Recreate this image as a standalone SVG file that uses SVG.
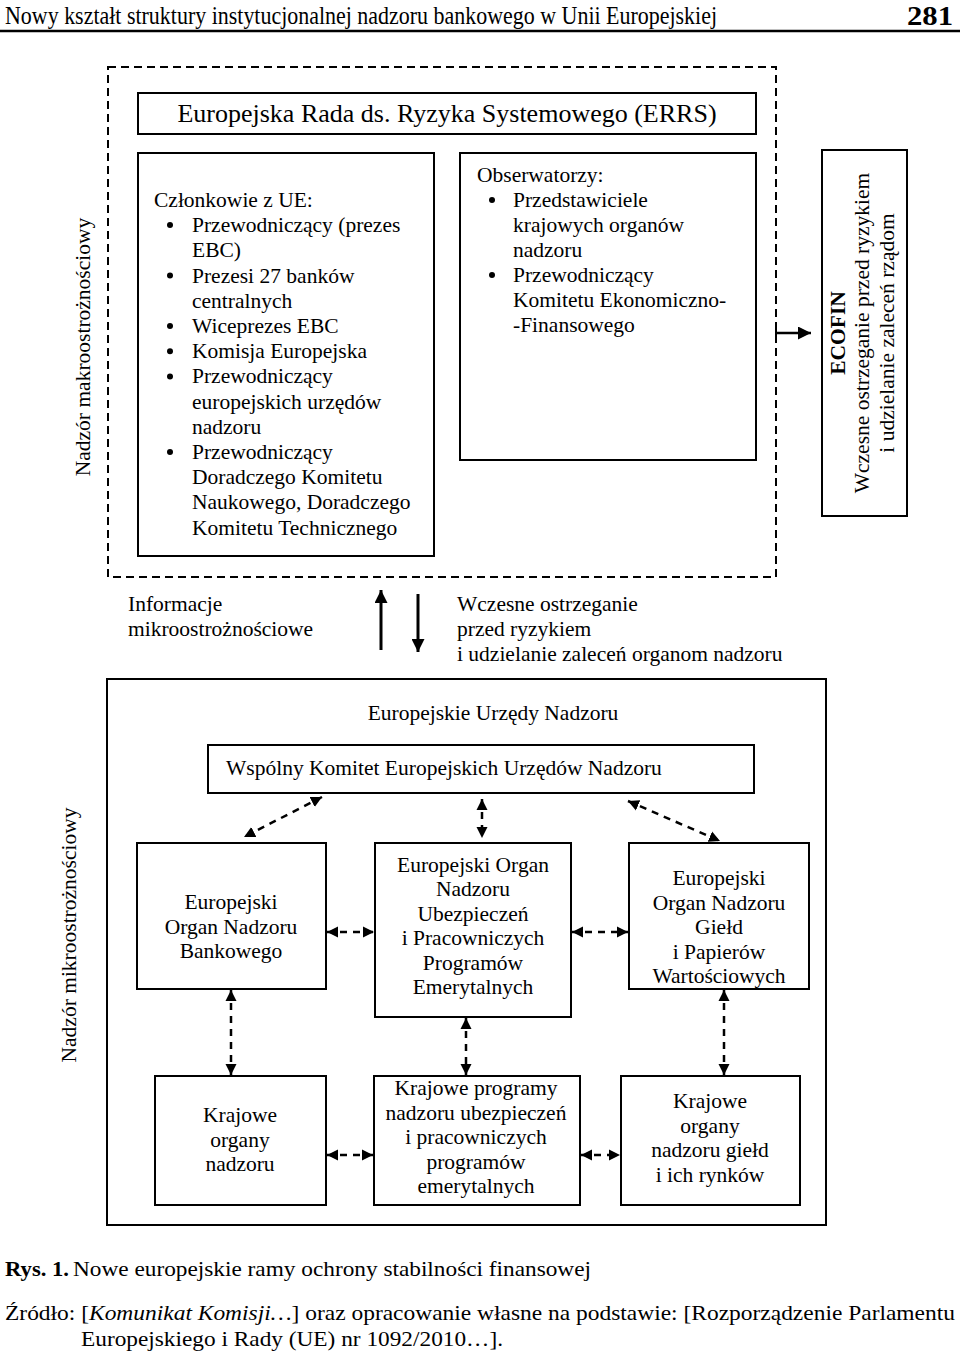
<svg xmlns="http://www.w3.org/2000/svg" width="960" height="1356" viewBox="0 0 960 1356">
<style>
text{font-family:"Liberation Serif","Times New Roman",serif;fill:#000;font-size:21.5px}
.c{text-anchor:middle}
.box{fill:#fff;stroke:#000;stroke-width:2}
.dbox{fill:none;stroke:#000;stroke-width:2;stroke-dasharray:8 5}
.dash{fill:none;stroke:#000;stroke-width:2.5;stroke-dasharray:7 6}
.solid{fill:none;stroke:#000;stroke-width:3}
.bul{fill:#000}
.cap{font-size:22px}
</style>
<defs>
<marker id="ah" viewBox="0 0 10 10" refX="10" refY="5" markerWidth="11" markerHeight="12" markerUnits="userSpaceOnUse" orient="auto-start-reverse"><path d="M0,0 L10,5 L0,10 z" fill="#000"/></marker>
<marker id="big" viewBox="0 0 10 10" refX="10" refY="5" markerWidth="16" markerHeight="13" markerUnits="userSpaceOnUse" orient="auto"><path d="M0,0 L10,5 L0,10 z" fill="#000"/></marker>
</defs>
<rect width="960" height="1356" fill="#fff"/>

<g id="header">
<text x="5" y="24" style="font-size:25px" textLength="712" lengthAdjust="spacingAndGlyphs">Nowy kształt struktury instytucjonalnej nadzoru bankowego w Unii Europejskiej</text>
<text x="953" y="25" style="font-size:27px;font-weight:bold;text-anchor:end" textLength="46" lengthAdjust="spacingAndGlyphs">281</text>
<line x1="0" y1="31" x2="960" y2="31" stroke="#000" stroke-width="2.5"/>
</g>

<g id="makro">
<rect class="dbox" x="108" y="67" width="668" height="510"/>
<text transform="translate(90,347) rotate(-90)" class="c">Nadzór makroostrożnościowy</text>
</g>

<g id="errs">
<rect class="box" x="138" y="93" width="618" height="41"/>
<text x="447" y="122" class="c" style="font-size:26px">Europejska Rada ds. Ryzyka Systemowego (ERRS)</text>
</g>

<g id="czlonkowie">
<rect class="box" x="138" y="153" width="296" height="403"/>
<text x="154" y="207">Członkowie z UE:</text>
<circle class="bul" cx="170" cy="225" r="3"/>
<text x="192" y="232.2">Przewodniczący (prezes</text>
<text x="192" y="257.4">EBC)</text>
<circle class="bul" cx="170" cy="275.6" r="3"/>
<text x="192" y="282.6">Prezesi 27 banków</text>
<text x="192" y="307.8">centralnych</text>
<circle class="bul" cx="170" cy="326" r="3"/>
<text x="192" y="333">Wiceprezes EBC</text>
<circle class="bul" cx="170" cy="351.2" r="3"/>
<text x="192" y="358.2">Komisja Europejska</text>
<circle class="bul" cx="170" cy="376.4" r="3"/>
<text x="192" y="383.4">Przewodniczący</text>
<text x="192" y="408.6">europejskich urzędów</text>
<text x="192" y="433.8">nadzoru</text>
<circle class="bul" cx="170" cy="452" r="3"/>
<text x="192" y="459">Przewodniczący</text>
<text x="192" y="484.2">Doradczego Komitetu</text>
<text x="192" y="509.4">Naukowego, Doradczego</text>
<text x="192" y="534.6">Komitetu Technicznego</text>
</g>

<g id="obserwatorzy">
<rect class="box" x="460" y="153" width="296" height="307"/>
<text x="477" y="182">Obserwatorzy:</text>
<circle class="bul" cx="492" cy="200" r="3"/>
<text x="513" y="207">Przedstawiciele</text>
<text x="513" y="232">krajowych organów</text>
<text x="513" y="257">nadzoru</text>
<circle class="bul" cx="492" cy="275" r="3"/>
<text x="513" y="282">Przewodniczący</text>
<text x="513" y="307">Komitetu Ekonomiczno-</text>
<text x="513" y="332">-Finansowego</text>
</g>

<g id="ecofin">
<rect class="box" x="822" y="150" width="85" height="366"/>
<text transform="translate(844.5,333) rotate(-90)" class="c" style="font-weight:bold">ECOFIN</text>
<text transform="translate(869,333) rotate(-90)" class="c">Wczesne ostrzeganie przed ryzykiem</text>
<text transform="translate(893.5,333) rotate(-90)" class="c">i udzielanie zaleceń rządom</text>
</g>

<g id="middle-labels">
<text x="128" y="611">Informacje</text>
<text x="128" y="636">mikroostrożnościowe</text>
<text x="457" y="611">Wczesne ostrzeganie</text>
<text x="457" y="636">przed ryzykiem</text>
<text x="457" y="661">i udzielanie zaleceń organom nadzoru</text>
</g>

<g id="mikro">
<rect x="107" y="679" width="719" height="546" fill="none" stroke="#000" stroke-width="2"/>
<text x="493" y="720" class="c">Europejskie Urzędy Nadzoru</text>
<text transform="translate(75.5,935) rotate(-90)" class="c">Nadzór mikroostrożnościowy</text>
</g>

<g id="wspolny">
<rect class="box" x="208" y="745" width="546" height="48"/>
<text x="226" y="775">Wspólny Komitet Europejskich Urzędów Nadzoru</text>
</g>

<g id="eba">
<rect class="box" x="137" y="843" width="189" height="146"/>
<text x="231" y="909" class="c">Europejski</text>
<text x="231" y="933.5" class="c">Organ Nadzoru</text>
<text x="231" y="958" class="c">Bankowego</text>
</g>

<g id="eiopa">
<rect class="box" x="375" y="843" width="196" height="174"/>
<text x="473" y="871.5" class="c">Europejski Organ</text>
<text x="473" y="896" class="c">Nadzoru</text>
<text x="473" y="920.5" class="c">Ubezpieczeń</text>
<text x="473" y="945" class="c">i Pracowniczych</text>
<text x="473" y="969.5" class="c">Programów</text>
<text x="473" y="994" class="c">Emerytalnych</text>
</g>

<g id="esma">
<rect class="box" x="629" y="843" width="180" height="146"/>
<text x="719" y="885" class="c">Europejski</text>
<text x="719" y="909.5" class="c">Organ Nadzoru</text>
<text x="719" y="934" class="c">Giełd</text>
<text x="719" y="958.5" class="c">i Papierów</text>
<text x="719" y="983" class="c">Wartościowych</text>
</g>

<g id="krajowe-bank">
<rect class="box" x="155" y="1076" width="171" height="129"/>
<text x="240" y="1122" class="c">Krajowe</text>
<text x="240" y="1146.5" class="c">organy</text>
<text x="240" y="1171" class="c">nadzoru</text>
</g>

<g id="krajowe-ubezp">
<rect class="box" x="374" y="1076" width="206" height="129"/>
<text x="476" y="1095" class="c">Krajowe programy</text>
<text x="476" y="1119.5" class="c">nadzoru ubezpieczeń</text>
<text x="476" y="1144" class="c">i pracowniczych</text>
<text x="476" y="1168.5" class="c">programów</text>
<text x="476" y="1193" class="c">emerytalnych</text>
</g>

<g id="krajowe-gield">
<rect class="box" x="621" y="1076" width="179" height="129"/>
<text x="710" y="1108" class="c">Krajowe</text>
<text x="710" y="1132.5" class="c">organy</text>
<text x="710" y="1157" class="c">nadzoru giełd</text>
<text x="710" y="1181.5" class="c">i ich rynków</text>
</g>

<g id="connectors">
<path d="M776,326 V340" stroke="#000" stroke-width="2"/>
<path class="solid" d="M776,333 H811" style="stroke-width:2.5" marker-end="url(#big)"/>
<path class="solid" d="M381,650 V590" marker-end="url(#big)"/>
<path class="solid" d="M418,594 V652" marker-end="url(#big)"/>
<path class="dash" d="M322,797 L244,837" marker-start="url(#ah)" marker-end="url(#ah)"/>
<path class="dash" d="M482,799 V838" marker-start="url(#ah)" marker-end="url(#ah)"/>
<path class="dash" d="M628,801 L720,841" marker-start="url(#ah)" marker-end="url(#ah)"/>
<path class="dash" d="M327,932 H374" marker-start="url(#ah)" marker-end="url(#ah)"/>
<path class="dash" d="M572,932 H628" marker-start="url(#ah)" marker-end="url(#ah)"/>
<path class="dash" d="M231,990 V1075" marker-start="url(#ah)" marker-end="url(#ah)"/>
<path class="dash" d="M466,1018 V1075" marker-start="url(#ah)" marker-end="url(#ah)"/>
<path class="dash" d="M724,990 V1075" marker-start="url(#ah)" marker-end="url(#ah)"/>
<path class="dash" d="M327,1155 H373" marker-start="url(#ah)" marker-end="url(#ah)"/>
<path class="dash" d="M581,1155 H620" marker-start="url(#ah)" marker-end="url(#ah)"/>
</g>

<g id="caption">
<text x="5" y="1276" class="cap" style="font-weight:bold" textLength="64" lengthAdjust="spacingAndGlyphs">Rys. 1.</text>
<text x="73" y="1276" class="cap" textLength="518" lengthAdjust="spacingAndGlyphs">Nowe europejskie ramy ochrony stabilności finansowej</text>
<text x="5" y="1320" class="cap" textLength="950" lengthAdjust="spacingAndGlyphs">Źródło: [<tspan style="font-style:italic">Komunikat Komisji…</tspan>] oraz opracowanie własne na podstawie: [Rozporządzenie Parlamentu</text>
<text x="81" y="1346" class="cap" textLength="422" lengthAdjust="spacingAndGlyphs">Europejskiego i Rady (UE) nr 1092/2010…].</text>
</g>
</svg>
